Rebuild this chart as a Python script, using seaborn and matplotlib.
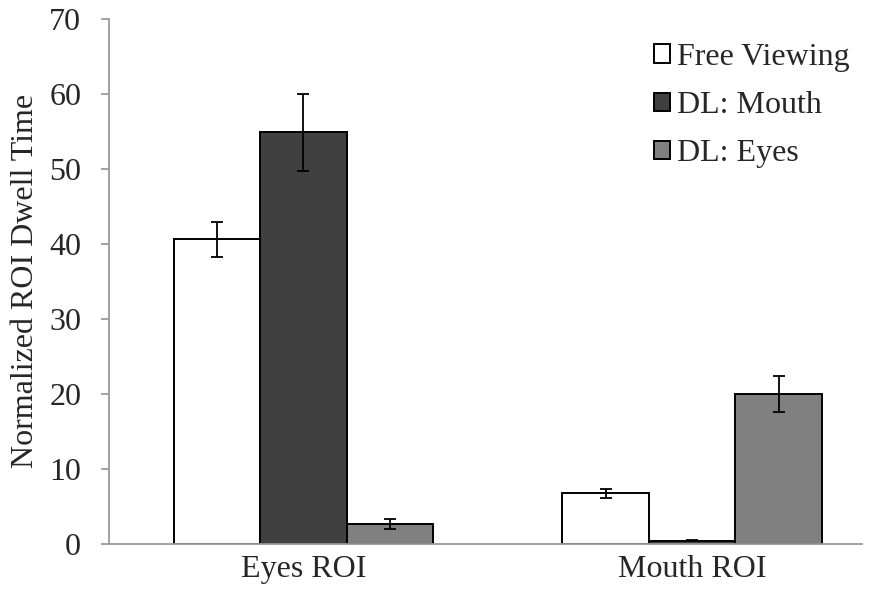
# Grouped bar chart: normalized ROI dwell time per viewing condition
import numpy as np
import pandas as pd
import seaborn as sns
import matplotlib.pyplot as plt
from matplotlib.ticker import FixedLocator, NullLocator

# data
regions = ["Eyes ROI", "Mouth ROI"]
conditions = ["Free Viewing", "DL: Mouth", "DL: Eyes"]
free_viewing = [40.6, 6.7]
dl_mouth = [54.9, 0.4]
dl_eyes = [2.6, 20.0]
free_viewing_err = [2.3, 0.6]
dl_mouth_err = [5.1, 0.1]
dl_eyes_err = [0.65, 2.4]
bar_colors = ["#ffffff", "#404040", "#808080"]
y_ticks = [0, 10, 20, 30, 40, 50, 60, 70]

def build_frame():
    '''
    Long-form table for seaborn
    '''
    means = [free_viewing, dl_mouth, dl_eyes]
    errs = [free_viewing_err, dl_mouth_err, dl_eyes_err]
    rows = []
    for cond, m, e in zip(conditions, means, errs):
        for reg, v, s in zip(regions, m, e):
            rows.append({'region': reg, 'condition': cond, 'dwell': v, 'err': s})
    return pd.DataFrame(rows)

def get_plot(data):
    sns.set_style("white")
    plt.rcParams['font.family'] = ['Liberation Serif', 'DejaVu Serif']
    fs = 23
    grey = "#9a9a9a"

    fig = plt.figure(figsize=(8.77, 5.92), dpi=100)
    ax = fig.add_axes([0.1243, 0.0819, 0.8587, 0.8855])

    g = sns.barplot(data=data, x='region', y='dwell', hue='condition',
                    order=regions, hue_order=conditions, palette=bar_colors,
                    width=0.668, gap=0, errorbar=None, edgecolor="black",
                    linewidth=1.4, saturation=1, ax=ax)

    # error bars placed on the bar patches seaborn drew
    bars = [p for p in ax.patches if p.get_height() > 0 or p.get_width() > 0][:len(data)]
    for cond_i, cond in enumerate(conditions):
        sub = data[data['condition'] == cond].set_index('region').loc[regions]
        for reg_i, reg in enumerate(regions):
            p = bars[cond_i * len(regions) + reg_i]
            xc = p.get_x() + p.get_width() / 2
            ax.errorbar(xc, sub.loc[reg, 'dwell'], yerr=sub.loc[reg, 'err'],
                        fmt='none', ecolor='black', elinewidth=1.3,
                        capsize=4, capthick=1.3, zorder=5)

    ax.set_ylim(0, 70)
    ax.set_xlim(-0.5, 1.437)
    ax.set_yticks(y_ticks)
    ax.set_yticklabels([str(t) for t in y_ticks], fontsize=fs)
    ax.set_xticklabels(regions, fontsize=fs)
    ax.xaxis.set_major_locator(FixedLocator([0, 1]))
    ax.xaxis.set_minor_locator(FixedLocator([0.5]))
    ax.tick_params(axis='x', which='major', length=0, pad=8)
    ax.tick_params(axis='x', which='minor', length=7, width=1.3, color=grey, direction='out')
    ax.tick_params(axis='y', length=6, width=1.3, color=grey, direction='out', pad=14, left=True)
    ax.set_xlabel("")
    ax.set_ylabel("Normalized ROI Dwell Time", fontsize=fs, labelpad=7)

    for side in ['top', 'right']:
        ax.spines[side].set_visible(False)
    for side in ['left', 'bottom']:
        ax.spines[side].set_color(grey)
        ax.spines[side].set_linewidth(1.3)

    handles, labels = ax.get_legend_handles_labels()
    ax.legend(handles, labels, loc='upper left', bbox_to_anchor=(0.724, 0.955),
              frameon=False, fontsize=fs, handlelength=0.5, handleheight=0.5,
              handletextpad=0.2, labelspacing=0.6, borderpad=0, borderaxespad=0)

    fig.savefig('out.png', dpi=100)

if __name__ == '__main__':
    all_data = build_frame()
    get_plot(all_data)
